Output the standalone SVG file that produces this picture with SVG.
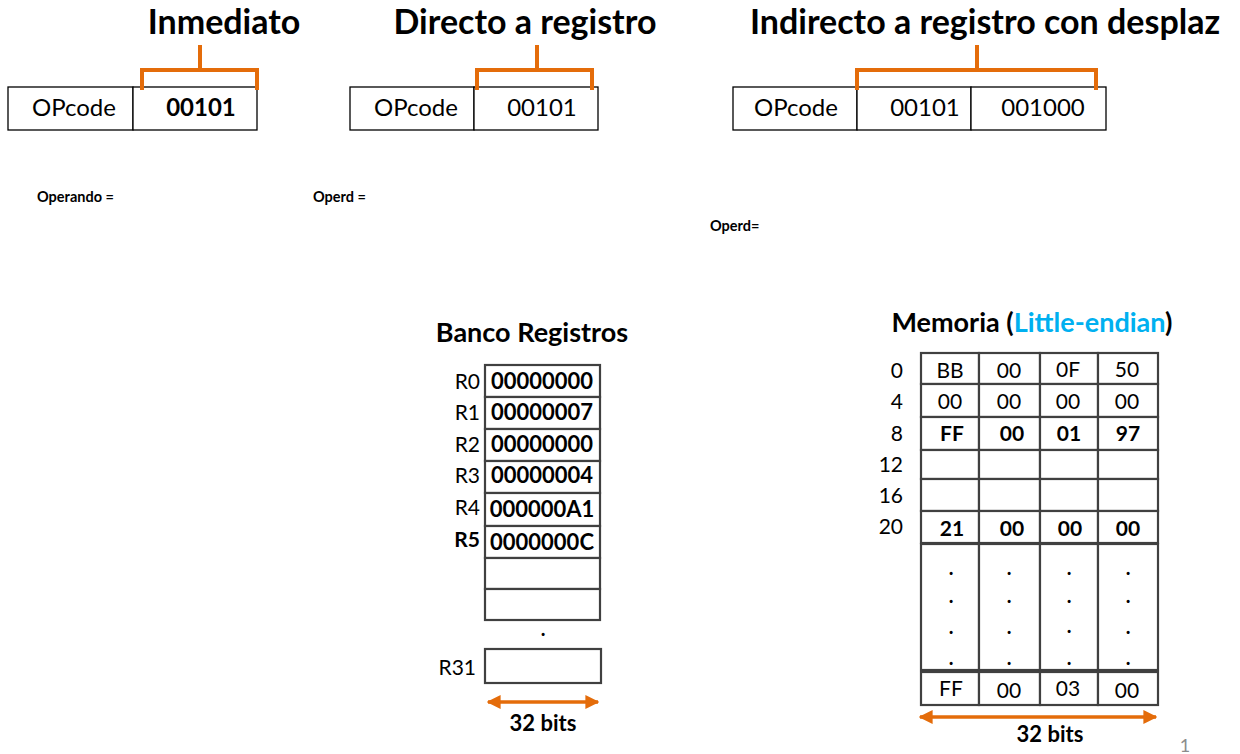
<svg xmlns="http://www.w3.org/2000/svg" width="1240" height="754" viewBox="0 0 1240 754">
<defs>
<style>
text{font-family:Lato,"Open Sans","Liberation Sans",sans-serif;fill:#000}
.title{font-size:34px;font-weight:bold;text-anchor:middle}
.sub{font-size:27px;font-weight:bold;text-anchor:middle}
.box{fill:#fff;stroke:#000;stroke-width:1.3}
.fld{font-size:24px;text-anchor:middle}
.br{fill:none;stroke:#E46C0A;stroke-width:4;stroke-linecap:square}
.op{font-size:14.5px;font-weight:bold}
.reg{fill:#fff;stroke:#404040;stroke-width:2.2}
.rl{font-size:21px;text-anchor:end}
.rv{font-size:22px;font-weight:bold;text-anchor:middle}
.mv{font-size:21px;text-anchor:middle}
.mvb{font-size:21px;font-weight:bold;text-anchor:middle}
.dot{font-size:20px;font-weight:bold;text-anchor:middle}
.bits{font-size:22px;font-weight:bold;text-anchor:middle}
.arr{stroke:#E46C0A;stroke-width:3.5;fill:none}
</style>
<marker id="ah" viewBox="0 0 10 10" refX="9" refY="5" markerWidth="4" markerHeight="4" orient="auto-start-reverse" markerUnits="strokeWidth">
<path d="M0,0 L10,5 L0,10 z" fill="#E46C0A"/>
</marker>
</defs>
<rect width="1240" height="754" fill="#fff"/>

<g id="inmediato">
<text class="title" x="224" y="34">Inmediato</text>
<rect class="box" x="8" y="87" width="125" height="43"/>
<rect class="box" x="133" y="87" width="124" height="43"/>
<text class="fld" x="74" y="116">OPcode</text>
<text class="fld" x="201" y="116" font-weight="bold">00101</text>
</g>

<g id="directo">
<text class="title" x="525" y="34">Directo a registro</text>
<rect class="box" x="350" y="87" width="124" height="43"/>
<rect class="box" x="474" y="87" width="124" height="43"/>
<text class="fld" x="416" y="116">OPcode</text>
<text class="fld" x="542" y="116">00101</text>
</g>

<g id="indirecto">
<text class="title" x="985" y="34">Indirecto a registro con desplaz</text>
<rect class="box" x="733" y="87" width="124" height="43"/>
<rect class="box" x="857" y="87" width="114" height="43"/>
<rect class="box" x="971" y="87" width="135" height="43"/>
<text class="fld" x="796" y="116">OPcode</text>
<text class="fld" x="925" y="116">00101</text>
<text class="fld" x="1043" y="116">001000</text>
</g>

<g id="connectors">
<path class="br" d="M142,88 V70 H257 V88 M200,47 V70"/>
<path class="br" d="M477,88 V70 H592 V88 M537,47 V70"/>
<path class="br" d="M857,88 V70 H1096 V88 M977,47 V70"/>
<line class="arr" x1="488" y1="702" x2="598" y2="702" marker-start="url(#ah)" marker-end="url(#ah)"/>
<line class="arr" x1="920" y1="717" x2="1156" y2="717" marker-start="url(#ah)" marker-end="url(#ah)"/>
</g>

<g id="operandos">
<text class="op" x="37" y="202">Operando =</text>
<text class="op" x="313" y="202">Operd =</text>
<text class="op" x="710" y="231">Operd=</text>
</g>

<g id="banco">
<text class="sub" x="532" y="342">Banco Registros</text>
<rect class="reg" x="485" y="365" width="115" height="32"/>
<rect class="reg" x="485" y="397" width="115" height="32"/>
<rect class="reg" x="485" y="429" width="115" height="32"/>
<rect class="reg" x="485" y="461" width="115" height="32"/>
<rect class="reg" x="485" y="493" width="115" height="33"/>
<rect class="reg" x="485" y="526" width="115" height="32"/>
<rect class="reg" x="485" y="558" width="115" height="31"/>
<rect class="reg" x="485" y="589" width="115" height="31"/>
<rect class="reg" x="485" y="649" width="116" height="34"/>
<text class="rl" x="480" y="389">R0</text>
<text class="rl" x="480" y="420">R1</text>
<text class="rl" x="480" y="452">R2</text>
<text class="rl" x="480" y="483">R3</text>
<text class="rl" x="480" y="515">R4</text>
<text class="rl" x="480" y="547" font-weight="bold">R5</text>
<text class="rl" x="476" y="675">R31</text>
<text class="rv" x="542" y="389">00000000</text>
<text class="rv" x="542" y="420">00000007</text>
<text class="rv" x="542" y="452">00000000</text>
<text class="rv" x="542" y="483">00000004</text>
<text class="rv" x="542" y="517">000000A1</text>
<text class="rv" x="542" y="550">0000000C</text>
<text class="dot" x="543" y="636">.</text>
<text class="bits" x="543" y="731">32 bits</text>
</g>

<g id="memoria">
<text class="sub" x="1032" y="332">Memoria (<tspan fill="#00B0F0" style="fill:#00B0F0">Little-endian</tspan>)</text>
<g>
<rect class="reg" x="921" y="353" width="58" height="31"/>
<rect class="reg" x="979" y="353" width="61" height="31"/>
<rect class="reg" x="1040" y="353" width="58" height="31"/>
<rect class="reg" x="1098" y="353" width="60" height="31"/>
<rect class="reg" x="921" y="384" width="58" height="33"/>
<rect class="reg" x="979" y="384" width="61" height="33"/>
<rect class="reg" x="1040" y="384" width="58" height="33"/>
<rect class="reg" x="1098" y="384" width="60" height="33"/>
<rect class="reg" x="921" y="417" width="58" height="33"/>
<rect class="reg" x="979" y="417" width="61" height="33"/>
<rect class="reg" x="1040" y="417" width="58" height="33"/>
<rect class="reg" x="1098" y="417" width="60" height="33"/>
<rect class="reg" x="921" y="450" width="58" height="29"/>
<rect class="reg" x="979" y="450" width="61" height="29"/>
<rect class="reg" x="1040" y="450" width="58" height="29"/>
<rect class="reg" x="1098" y="450" width="60" height="29"/>
<rect class="reg" x="921" y="479" width="58" height="32"/>
<rect class="reg" x="979" y="479" width="61" height="32"/>
<rect class="reg" x="1040" y="479" width="58" height="32"/>
<rect class="reg" x="1098" y="479" width="60" height="32"/>
<rect class="reg" x="921" y="511" width="58" height="32"/>
<rect class="reg" x="979" y="511" width="61" height="32"/>
<rect class="reg" x="1040" y="511" width="58" height="32"/>
<rect class="reg" x="1098" y="511" width="60" height="32"/>
<rect class="reg" x="921" y="544" width="58" height="126"/>
<rect class="reg" x="979" y="544" width="61" height="126"/>
<rect class="reg" x="1040" y="544" width="58" height="126"/>
<rect class="reg" x="1098" y="544" width="60" height="126"/>
<rect class="reg" x="921" y="672" width="58" height="33"/>
<rect class="reg" x="979" y="672" width="61" height="33"/>
<rect class="reg" x="1040" y="672" width="58" height="33"/>
<rect class="reg" x="1098" y="672" width="60" height="33"/>
</g>
<text class="rl" x="903" y="378">0</text>
<text class="rl" x="903" y="409">4</text>
<text class="rl" x="903" y="441">8</text>
<text class="rl" x="903" y="472">12</text>
<text class="rl" x="903" y="503">16</text>
<text class="rl" x="903" y="534">20</text>
<text class="mv" x="950" y="378">BB</text>
<text class="mv" x="1009" y="378">00</text>
<text class="mv" x="1068" y="377">0F</text>
<text class="mv" x="1127" y="377">50</text>
<text class="mv" x="950" y="409">00</text>
<text class="mv" x="1009" y="409">00</text>
<text class="mv" x="1068" y="409">00</text>
<text class="mv" x="1127" y="409">00</text>
<text class="mvb" x="952" y="441">FF</text>
<text class="mvb" x="1012" y="441">00</text>
<text class="mvb" x="1069" y="441">01</text>
<text class="mvb" x="1128" y="441">97</text>
<text class="mvb" x="952" y="536">21</text>
<text class="mvb" x="1012" y="536">00</text>
<text class="mvb" x="1070" y="536">00</text>
<text class="mvb" x="1128" y="536">00</text>
<g class="dots">
<text class="dot" x="951" y="575">.</text><text class="dot" x="951" y="603">.</text><text class="dot" x="951" y="634">.</text><text class="dot" x="951" y="665">.</text>
<text class="dot" x="1009" y="575">.</text><text class="dot" x="1009" y="603">.</text><text class="dot" x="1009" y="634">.</text><text class="dot" x="1009" y="665">.</text>
<text class="dot" x="1069" y="575">.</text><text class="dot" x="1069" y="603">.</text><text class="dot" x="1069" y="633">.</text><text class="dot" x="1069" y="665">.</text>
<text class="dot" x="1128" y="575">.</text><text class="dot" x="1128" y="603">.</text><text class="dot" x="1128" y="634">.</text><text class="dot" x="1128" y="665">.</text>
</g>
<text class="mv" x="951" y="696">FF</text>
<text class="mv" x="1009" y="698">00</text>
<text class="mv" x="1068" y="696">03</text>
<text class="mv" x="1127" y="698">00</text>
<text class="bits" x="1050" y="742">32 bits</text>
</g>
<text x="1185" y="752" style="font-size:18px;fill:#8c8c8c" text-anchor="middle">1</text>
</svg>
